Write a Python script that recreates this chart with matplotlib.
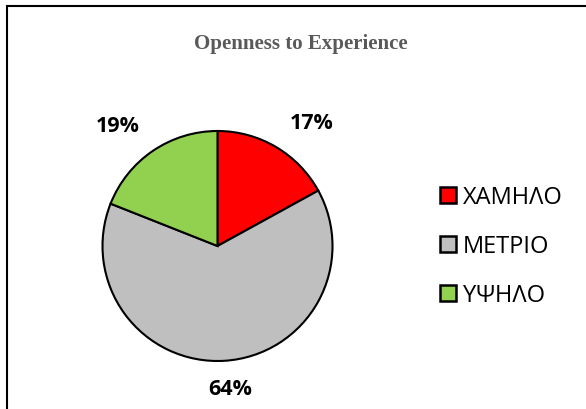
import matplotlib.pyplot as plt
from matplotlib.patches import Rectangle, Patch

categories = ['ΧΑΜΗΛΟ', 'ΜΕΤΡΙΟ', 'ΥΨΗΛΟ']
values = [17, 64, 19]
colors = ['#FF0000', '#BFBFBF', '#92D050']
# label positions (data coords, pie radius = 1)
label_pos = [(0.82, 1.07), (0.11, -1.24), (-0.865, 1.045)]

fig = plt.figure(figsize=(5.86, 4.10), dpi=100)
# chart-area border (left/top/right visible, bottom cut off like the reference)
fig.patches.append(Rectangle((7 / 586, -0.1), 1.2, (410 - 7) / 410 + 0.1,
                             transform=fig.transFigure, fill=False,
                             edgecolor='black', linewidth=1.5))

fig.text(301 / 586, 1 - 44 / 410, 'Openness to Experience', ha='center', va='center',
         family='Liberation Serif', fontweight='bold', fontsize=15, color='#595959')

ax = fig.add_axes([(217.5 - 115) / 586, (410 - 247 - 115) / 410, 230 / 586, 230 / 410])
wedges, _ = ax.pie(values, colors=colors, startangle=90, counterclock=False,
                   wedgeprops=dict(edgecolor='black', linewidth=1.5))
ax.set_xlim(-1, 1)
ax.set_ylim(-1, 1)
ax.set_aspect('equal')
ax.axis('off')

for v, (x, y) in zip(values, label_pos):
    ax.text(x, y, f'{v}%', ha='center', va='center', family='Open Sans',
            fontweight='bold', fontsize=15.5, color='black', clip_on=False)

handles = [Patch(facecolor=c, edgecolor='black', linewidth=1.8) for c in colors]
fig.legend(handles, categories, loc='center left', bbox_to_anchor=(440 / 586, 1 - 247 / 410),
           frameon=False, borderpad=0, borderaxespad=0,
           handlelength=0.68, handleheight=0.68, handletextpad=0.28,
           labelspacing=1.06, prop=dict(family='Open Sans', size=17))

fig.savefig('out.png', dpi=100)
